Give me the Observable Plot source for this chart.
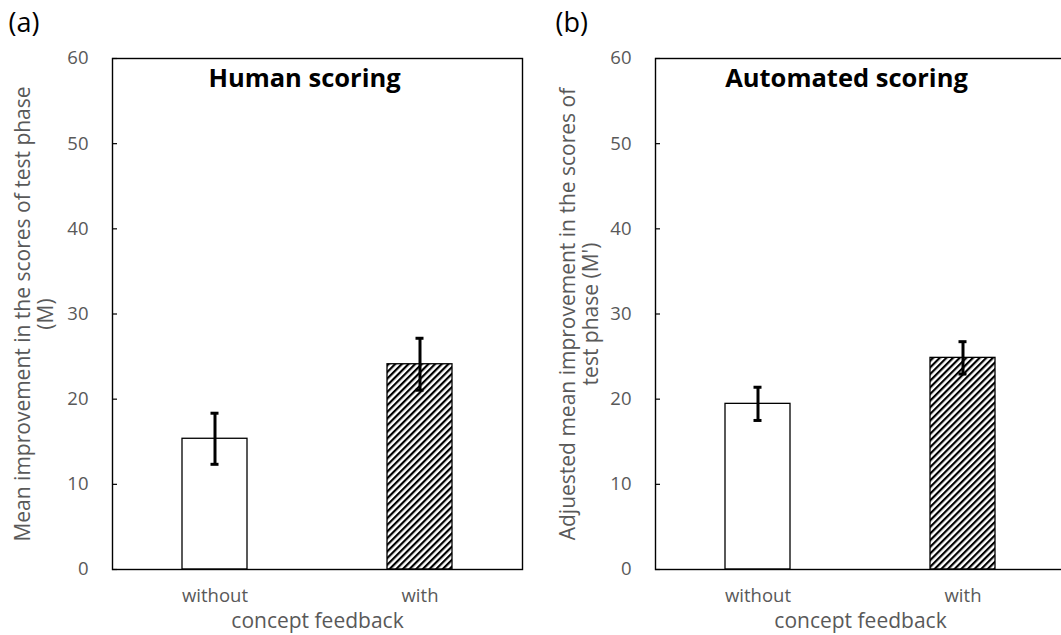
<!DOCTYPE html>
<html>
<head>
<meta charset="utf-8">
<script src="https://cdn.jsdelivr.net/npm/d3@7"></script>
<script src="https://cdn.jsdelivr.net/npm/@observablehq/plot@0.6"></script>
<style>
  html, body { margin: 0; padding: 0; background: white; overflow: hidden; }
  #wrap { display: flex; width: 1075px; height: 635px; }
  #wrap svg { display: block; flex: none; }
</style>
</head>
<body>
<div id="wrap"></div>
<script>
// ---- data ----
const categories = ["without", "with"];
const humanMeans = [15.35, 24.1];
const humanErrors = [3.0, 3.05];
const autoMeans = [19.45, 24.85];
const autoErrors = [1.95, 1.9];
const yTicks = [0, 10, 20, 30, 40, 50, 60];
const panelLetters = ["(a)", "(b)"];
const panelTitles = ["Human scoring", "Automated scoring"];
const yLabels = [
  "Mean improvement in the scores of test phase\n(M)",
  "Adjuested mean improvement in the scores of\ntest phase (M')"
];
const xLabel = "concept feedback";

const FONT = "Open Sans";
const GRAY = "#595959";

function hatchDefs(id) {
  return () => {
    const defs = d3.create("svg:defs");
    const p = defs.append("pattern")
      .attr("id", id)
      .attr("patternUnits", "userSpaceOnUse")
      .attr("width", 4.7).attr("height", 4.7)
      .attr("patternTransform", "rotate(45)");
    p.append("rect").attr("width", 4.7).attr("height", 4.7).attr("fill", "white");
    p.append("rect").attr("width", 2.2).attr("height", 4.7).attr("fill", "black");
    return defs.node();
  };
}

function panel({means, errors, letter, title, ylabel, marginLeft, marginRight, width, hatchId, titleDx, letterDx, ylabelDx}) {
  const data = categories.map((c, i) => ({cat: c, mean: means[i], err: errors[i]}));
  const frameW = width - marginLeft - marginRight;
  return Plot.plot({
    width,
    height: 635,
    marginLeft,
    marginRight,
    marginTop: 58,
    marginBottom: 66,
    style: {fontFamily: FONT, background: "white", overflow: "visible"},
    x: {domain: categories, paddingInner: 0.683, paddingOuter: 0.3415, axis: null},
    y: {domain: [0, 60], axis: null},
    marks: [
      hatchDefs(hatchId),
      Plot.barY(data.filter(d => d.cat === "without"), {x: "cat", y: "mean", fill: "white", stroke: "black", strokeWidth: 1.3}),
      Plot.barY(data.filter(d => d.cat === "with"), {x: "cat", y: "mean", fill: `url(#${hatchId})`, stroke: "black", strokeWidth: 1.3}),
      Plot.ruleX(data, {x: "cat", y1: d => d.mean - d.err, y2: d => d.mean + d.err, stroke: "black", strokeWidth: 3}),
      Plot.tickY(data, {x: "cat", y: d => d.mean - d.err, stroke: "black", strokeWidth: 3, insetLeft: 28.5, insetRight: 28.5}),
      Plot.tickY(data, {x: "cat", y: d => d.mean + d.err, stroke: "black", strokeWidth: 3, insetLeft: 28.5, insetRight: 28.5}),
      Plot.tickY(yTicks, {y: d => d, stroke: "black", strokeWidth: 1.2, insetRight: frameW - 5}),
      Plot.frame({stroke: "black", strokeWidth: 1.4}),
      Plot.axisY({ticks: yTicks, tickSize: 0, tickPadding: 24, fontSize: 18.5, color: GRAY, label: null}),
      Plot.axisX({tickSize: 0, tickPadding: 19, fontSize: 18.5, color: GRAY, label: null}),
      Plot.text([xLabel], {text: d => d, frameAnchor: "bottom", dy: 52, fontSize: 21, fill: GRAY, lineAnchor: "middle"}),
      Plot.text([ylabel], {text: d => d, frameAnchor: "left", dx: ylabelDx, rotate: -90, fontSize: 21, lineHeight: 1.1, fill: GRAY, textAnchor: "middle", lineAnchor: "middle"}),
      Plot.text([title], {text: d => d, frameAnchor: "top", dx: titleDx, dy: 20, fontSize: 25.5, fontWeight: "bold", fill: "black", lineAnchor: "middle"}),
      Plot.text([letter], {text: d => d, frameAnchor: "top-left", dx: letterDx, dy: -35.5, fontSize: 27, fill: "black", textAnchor: "start", lineAnchor: "middle"})
    ]
  });
}

const wrap = document.getElementById("wrap");
wrap.append(panel({
  means: humanMeans, errors: humanErrors, letter: panelLetters[0], title: panelTitles[0], ylabel: yLabels[0],
  marginLeft: 112, marginRight: 23, width: 545, hatchId: "hatchA", titleDx: -13, letterDx: -104, ylabelDx: -78
}));
wrap.append(panel({
  means: autoMeans, errors: autoErrors, letter: panelLetters[1], title: panelTitles[1], ylabel: yLabels[1],
  marginLeft: 110, marginRight: 10, width: 530, hatchId: "hatchB", titleDx: -14, letterDx: -100, ylabelDx: -76
}));
</script>
</body>
</html>
